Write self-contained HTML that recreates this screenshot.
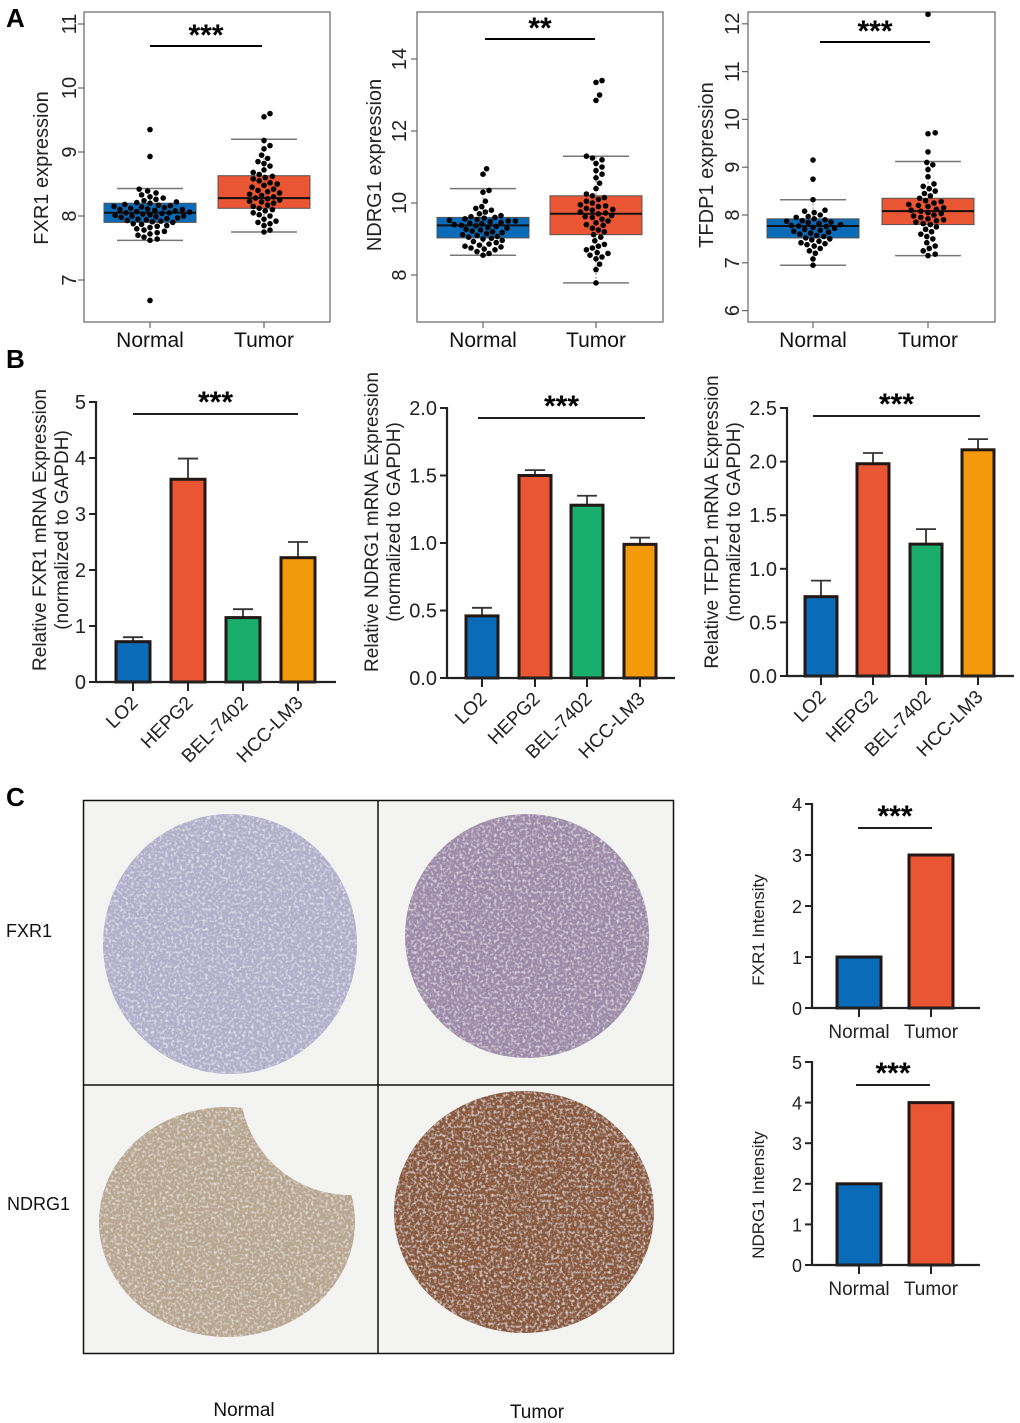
<!DOCTYPE html>
<html><head><meta charset="utf-8"><style>
html,body{margin:0;padding:0;background:#fff;}
svg{display:block;font-family:"Liberation Sans",Arial,sans-serif;}
</style></head><body>
<svg id="fig" width="1020" height="1423" viewBox="0 0 1020 1423" xmlns="http://www.w3.org/2000/svg">
<defs>
<filter id="tex" x="0" y="0" width="100%" height="100%">
<feTurbulence type="fractalNoise" baseFrequency="0.35" numOctaves="2" seed="3" result="n"/>
<feColorMatrix in="n" type="matrix" values="0 0 0 0 1  0 0 0 0 1  0 0 0 0 1  0 0 0 -1.6 0.85" result="w"/>
<feComposite in="w" in2="SourceGraphic" operator="in" result="wm"/>
<feMerge><feMergeNode in="SourceGraphic"/><feMergeNode in="wm"/></feMerge>
</filter>
<mask id="biteMask"><rect x="83" y="1085" width="296" height="270" fill="#fff"/><circle cx="350" cy="1085" r="110" fill="#000"/></mask>
<clipPath id="cellTL"><rect x="83" y="800" width="295" height="285"/></clipPath>
<clipPath id="cellTR"><rect x="378" y="800" width="295" height="285"/></clipPath>
<clipPath id="cellBR"><rect x="378" y="1085" width="295" height="268"/></clipPath>
</defs>
<g id="root"></g>
</svg>
<script>
// ---------- Panel A data ----------
const boxGroups = ["Normal", "Tumor"];
const a1Normal = [6.68,7.62,7.64,7.67,7.7,7.72,7.74,7.76,7.78,7.8,7.82,7.84,7.85,7.87,7.88,7.9,7.91,7.92,7.93,7.94,7.95,7.96,7.97,7.98,7.99,8.0,8.0,8.01,8.02,8.03,8.04,8.05,8.05,8.06,8.07,8.08,8.09,8.1,8.1,8.11,8.12,8.13,8.14,8.15,8.16,8.17,8.18,8.2,8.21,8.22,8.24,8.26,8.28,8.3,8.33,8.36,8.39,8.42,8.93,9.35];
const a1Tumor = [7.75,7.78,7.85,7.88,7.9,7.92,7.95,8.0,8.02,8.05,8.08,8.1,8.12,8.15,8.17,8.2,8.22,8.23,8.25,8.27,8.28,8.3,8.32,8.34,8.36,8.38,8.4,8.42,8.45,8.48,8.5,8.52,8.55,8.58,8.6,8.62,8.65,8.68,8.72,8.78,8.82,8.85,8.9,8.95,9.05,9.1,9.18,9.55,9.6];
const a1Stats = [[7.62,7.9,8.05,8.2,8.43],[7.75,8.12,8.28,8.63,9.2]];
const a1Ticks = [7,8,9,10,11];
const a2Normal = [8.55,8.6,8.65,8.7,8.72,8.75,8.78,8.8,8.83,8.86,8.9,8.93,8.96,9.0,9.02,9.05,9.07,9.1,9.12,9.15,9.18,9.2,9.22,9.25,9.27,9.3,9.32,9.35,9.37,9.38,9.4,9.42,9.44,9.46,9.48,9.5,9.5,9.52,9.54,9.56,9.58,9.6,9.62,9.65,9.7,9.75,9.8,9.85,9.9,10.05,10.3,10.35,10.8,10.95];
const a2Tumor = [7.78,8.15,8.3,8.45,8.5,8.55,8.6,8.62,8.7,8.75,8.8,8.85,8.95,9.05,9.12,9.2,9.25,9.3,9.38,9.4,9.45,9.5,9.55,9.6,9.62,9.65,9.7,9.72,9.75,9.8,9.82,9.85,9.9,9.92,9.95,10.0,10.05,10.1,10.15,10.2,10.25,10.4,10.55,10.7,10.8,10.9,11.0,11.1,11.2,11.25,11.3,12.85,13.0,13.35,13.4];
const a2Stats = [[8.55,9.03,9.38,9.6,10.4],[7.78,9.12,9.7,10.2,11.3]];
const a2Ticks = [8,10,12,14];
const a3Normal = [6.95,7.08,7.2,7.25,7.3,7.35,7.38,7.4,7.42,7.45,7.48,7.5,7.52,7.55,7.57,7.6,7.62,7.64,7.66,7.68,7.7,7.72,7.74,7.76,7.77,7.78,7.8,7.82,7.84,7.85,7.87,7.88,7.9,7.92,7.95,7.97,8.0,8.05,8.08,8.1,8.32,8.75,9.15];
const a3Tumor = [7.15,7.18,7.25,7.3,7.35,7.42,7.5,7.55,7.6,7.65,7.7,7.75,7.8,7.82,7.85,7.88,7.9,7.92,7.95,7.98,8.0,8.03,8.05,8.08,8.1,8.12,8.15,8.18,8.2,8.22,8.25,8.28,8.3,8.35,8.4,8.45,8.5,8.55,8.6,8.65,8.8,8.95,9.05,9.1,9.32,9.7,9.72,12.2];
const a3Stats = [[6.95,7.52,7.77,7.92,8.32],[7.15,7.8,8.08,8.35,9.12]];
const a3Ticks = [6,7,8,9,10,11,12];

// ---------- Panel B data ----------
const cellLines = ["LO2","HEPG2","BEL-7402","HCC-LM3"];
const b1Values = [0.72,3.62,1.15,2.22];
const b1Errors = [0.08,0.37,0.15,0.28];
const b1Ticks = ["0","1","2","3","4","5"];
const b2Values = [0.46,1.5,1.28,0.99];
const b2Errors = [0.06,0.04,0.07,0.05];
const b2Ticks = ["0.0","0.5","1.0","1.5","2.0"];
const b3Values = [0.74,1.98,1.23,2.11];
const b3Errors = [0.15,0.1,0.14,0.1];
const b3Ticks = ["0.0","0.5","1.0","1.5","2.0","2.5"];

// ---------- Panel C data ----------
const ihcGroups = ["Normal","Tumor"];
const c1Values = [1,3];
const c1Ticks = ["0","1","2","3","4"];
const c2Values = [2,4];
const c2Ticks = ["0","1","2","3","4","5"];

const BLUE="#0a6cb8", RED="#ea5533", GREEN="#19ae6c", ORANGE="#f39a0a";
const barColors=[BLUE,RED,GREEN,ORANGE];
const NS="http://www.w3.org/2000/svg";
const root=document.getElementById("root");
function mk(tag,attrs,parent){const e=document.createElementNS(NS,tag);for(const k in attrs)e.setAttribute(k,attrs[k]);(parent||root).appendChild(e);return e;}
function txt(s,attrs,parent){const e=mk("text",attrs,parent);e.textContent=s;return e;}
function lin(d0,d1,r0,r1){return v=>r0+(v-d0)*(r1-r0)/(d1-d0);}

// ---------- letters ----------
let t;
t=txt("A",{x:6,y:27,"font-size":26,"font-weight":"bold"});


t=txt("B",{x:6,y:368,"font-size":26,"font-weight":"bold"});


t=txt("C",{x:6,y:806,"font-size":26,"font-weight":"bold"});



// ---------- box plots ----------
function boxPlot(o){
  const g=mk("g",{});
  
  
  const y=lin(o.v0,o.v1,o.y0,o.y1);
  const fr=mk("rect",{x:o.fx0,y:12,width:o.fx1-o.fx0,height:310,fill:"none",stroke:"#666","stroke-width":1.2},g);
  
  
  o.ticks.forEach(v=>{
    const yy=y(v);
    const tk=mk("line",{x1:o.fx0-6,x2:o.fx0,y1:yy,y2:yy,stroke:"#666","stroke-width":1.2},g);
    
    
    const tl=txt(String(v),{x:o.tx,y:yy,"font-size":20,"text-anchor":"middle",transform:`rotate(-90 ${o.tx} ${yy})`,fill:"#222"},g);
    
    
  });
  const yl=txt(o.ylabel,{x:o.lx,y:o.ly,"font-size":20,"text-anchor":"middle",transform:`rotate(-90 ${o.lx} ${o.ly})`,fill:"#222"},g);
  
  
  const cols=[BLUE,RED];
  [o.normal,o.tumor].forEach((vals,i)=>{
    const cx=o.xs[i];const s=o.stats[i];
    const xt=mk("line",{x1:cx,x2:cx,y1:322,y2:328,stroke:"#666","stroke-width":1.2},g);
    
    
    const xl=txt(boxGroups[i],{x:cx,y:347,"font-size":21,"text-anchor":"middle",fill:"#111"},g);
    
    
    const wl=mk("line",{x1:cx,x2:cx,y1:y(s[0]),y2:y(s[4]),stroke:"#888","stroke-width":1,"stroke-dasharray":"2,2"},g);
    
    
    [s[0],s[4]].forEach(v=>{
      const c=mk("line",{x1:cx-33,x2:cx+33,y1:y(v),y2:y(v),stroke:"#777","stroke-width":1.5},g);
      
      
    });
    const b=mk("rect",{x:cx-46,y:y(s[3]),width:92,height:y(s[1])-y(s[3]),fill:cols[i],stroke:"#555","stroke-width":1},g);
    
    
    const m=mk("line",{x1:cx-46,x2:cx+46,y1:y(s[2]),y2:y(s[2]),stroke:"#111","stroke-width":2},g);
    
    
    const r=2.8,d=6.2;const placed=[];
    const sorted=vals.slice().sort((a,b)=>a-b);
    sorted.forEach(v=>{
      let yy=y(v);if(yy<13.5)yy=13.5;
      let best=0;
      for(let k=0;k<80;k++){
        const off=(k%2?1:-1)*Math.ceil(k/2)*1.2;
        if(placed.every(p=>(p[0]-off)**2+(p[1]-yy)**2>=d*d)){best=off;break;}
      }
      placed.push([best,yy]);
      const dot=mk("circle",{cx:cx+best,cy:yy,r:r,fill:"#000"},g);
      
      
    });
  });
  const sl=mk("line",{x1:o.sig[0],x2:o.sig[1],y1:o.sig[2],y2:o.sig[2],stroke:"#000","stroke-width":2},g);
  
  
  const st=txt(o.stars,{x:(o.sig[0]+o.sig[1])/2,y:o.sig[2]-1,"font-size":30,"font-weight":"bold","text-anchor":"middle"},g);
  
  
}
boxPlot({name:"fxr1-expression-boxplot",normal:a1Normal,tumor:a1Tumor,stats:a1Stats,ticks:a1Ticks,v0:8,v1:9,y0:216,y1:152,fx0:84,fx1:330,xs:[150,264],tx:76,lx:48,ly:168,ylabel:"FXR1 expression",sig:[150,262,46],stars:"***"});
boxPlot({name:"ndrg1-expression-boxplot",normal:a2Normal,tumor:a2Tumor,stats:a2Stats,ticks:a2Ticks,v0:8,v1:10,y0:275,y1:203,fx0:417,fx1:663,xs:[483,596],tx:406,lx:381,ly:165,ylabel:"NDRG1 expression",sig:[485,595,39],stars:"**"});
boxPlot({name:"tfdp1-expression-boxplot",normal:a3Normal,tumor:a3Tumor,stats:a3Stats,ticks:a3Ticks,v0:8,v1:9,y0:215,y1:167.2,fx0:748,fx1:995,xs:[813,928],tx:739,lx:713,ly:165,ylabel:"TFDP1 expression",sig:[820,930,42],stars:"***"});

// ---------- bar charts ----------
function barChart(o){
  const g=mk("g",{});
  
  
  const y=lin(0,o.vmax,o.y0,o.ytop);
  const n=o.ticks.length;
  o.ticks.forEach((lab,i)=>{
    const v=o.vmax*i/(n-1);const yy=y(v);
    const tk=mk("line",{x1:o.ax-7,x2:o.ax,y1:yy,y2:yy,stroke:"#222","stroke-width":2},g);
    
    
    const tl=txt(lab,{x:o.ax-10,y:yy+7,"font-size":o.fs||20,"text-anchor":"end",fill:"#222"},g);
    
    
  });
  o.values.forEach((v,i)=>{
    const cx=o.xs[i];
    if(o.errors){
      const e=o.errors[i];
      const el=mk("line",{x1:cx,x2:cx,y1:y(v),y2:y(v+e),stroke:"#333","stroke-width":1.8},g);
      
      
      const ec=mk("line",{x1:cx-10,x2:cx+10,y1:y(v+e),y2:y(v+e),stroke:"#333","stroke-width":1.8},g);
      
      
    }
    const b=mk("rect",{x:cx-o.bw/2,y:y(v),width:o.bw,height:o.y0-y(v),fill:o.colors[i],stroke:"#231815","stroke-width":3},g);
    
    
    const xt=mk("line",{x1:cx,x2:cx,y1:o.y0,y2:o.y0+9,stroke:"#222","stroke-width":2},g);
    
    
    let xl;
    if(o.rot){
      xl=txt(o.cats[i],{x:cx+6,y:o.y0+22,"font-size":19,"text-anchor":"end",transform:`rotate(-45 ${cx+6} ${o.y0+22})`,fill:"#222"},g);
    } else {
      xl=txt(o.cats[i],{x:cx,y:o.y0+30,"font-size":19,"text-anchor":"middle",fill:"#222"},g);
    }
    
    
  });
  const ya=mk("line",{x1:o.ax,x2:o.ax,y1:o.ytop-1,y2:o.y0+1,stroke:"#222","stroke-width":2.2},g);
  
  
  const xa=mk("line",{x1:o.ax,x2:o.axEnd,y1:o.y0,y2:o.y0,stroke:"#222","stroke-width":2.2},g);
  
  
  o.ylabel.forEach((s,k)=>{
    const lx=o.lx+k*22;
    const yl=txt(s,{x:lx,y:o.ly,"font-size":o.lfs||19,"text-anchor":"middle",transform:`rotate(-90 ${lx} ${o.ly})`,fill:"#222"},g);
    
    
  });
  const sl=mk("line",{x1:o.sig[0],x2:o.sig[1],y1:o.sig[2],y2:o.sig[2],stroke:"#000","stroke-width":1.8},g);
  
  
  const st=txt("***",{x:(o.sig[0]+o.sig[1])/2,y:o.sig[2]-2,"font-size":30,"font-weight":"bold","text-anchor":"middle"},g);
  
  
}
barChart({name:"fxr1-mrna-barchart",values:b1Values,errors:b1Errors,ticks:b1Ticks,vmax:5,y0:682,ytop:402,ax:96,axEnd:336,xs:[133,188,243,298],bw:34,colors:barColors,cats:cellLines,rot:true,lx:46,ly:530,ylabel:["Relative FXR1 mRNA Expression","(normalized to GAPDH)"],sig:[133,298,414]});
barChart({name:"ndrg1-mrna-barchart",values:b2Values,errors:b2Errors,ticks:b2Ticks,vmax:2,y0:678,ytop:408,ax:447,axEnd:675,xs:[482,535,587,640],bw:32,colors:barColors,cats:cellLines,rot:true,lx:378,ly:522,ylabel:["Relative NDRG1 mRNA Expression","(normalized to GAPDH)"],sig:[478,645,418]});
barChart({name:"tfdp1-mrna-barchart",values:b3Values,errors:b3Errors,ticks:b3Ticks,vmax:2.5,y0:676,ytop:408,ax:787,axEnd:1014,xs:[821,873,926,978],bw:32,colors:barColors,cats:cellLines,rot:true,lx:718,ly:522,ylabel:["Relative TFDP1 mRNA Expression","(normalized to GAPDH)"],sig:[813,980,416]});
barChart({name:"fxr1-intensity-barchart",values:c1Values,ticks:c1Ticks,vmax:4,y0:1008,ytop:804,ax:812,axEnd:980,xs:[859,931],bw:44,colors:[BLUE,RED],cats:ihcGroups,rot:false,fs:18,lfs:17,lx:764,ly:930,ylabel:["FXR1 Intensity"],sig:[858,932,828]});
barChart({name:"ndrg1-intensity-barchart",values:c2Values,ticks:c2Ticks,vmax:5,y0:1265,ytop:1062,ax:812,axEnd:980,xs:[859,931],bw:44,colors:[BLUE,RED],cats:ihcGroups,rot:false,fs:18,lfs:17,lx:764,ly:1195,ylabel:["NDRG1 Intensity"],sig:[856,930,1085]});

// ---------- IHC images ----------
const ihc=mk("g",{});


let e;
e=mk("rect",{x:83,y:800,width:590,height:553,fill:"#f3f3f1"},ihc);


e=mk("ellipse",{cx:230,cy:944,rx:127,ry:130,fill:"#b2afcb",filter:"url(#tex)","clip-path":"url(#cellTL)"},ihc);


e=mk("ellipse",{cx:527,cy:936,rx:122,ry:122,fill:"#9d8aa8",filter:"url(#tex)","clip-path":"url(#cellTR)"},ihc);


e=mk("ellipse",{cx:227,cy:1222,rx:128,ry:115,fill:"#b8a690",filter:"url(#tex)",mask:"url(#biteMask)"},ihc);


e=mk("ellipse",{cx:524,cy:1212,rx:130,ry:121,fill:"#8a583a",filter:"url(#tex)","clip-path":"url(#cellBR)"},ihc);


e=mk("rect",{x:83.5,y:800.5,width:590,height:553,fill:"none",stroke:"#111","stroke-width":1.5},ihc);


e=mk("line",{x1:378,x2:378,y1:800,y2:1353,stroke:"#111","stroke-width":1.5},ihc);


e=mk("line",{x1:83,x2:673,y1:1085,y2:1085,stroke:"#111","stroke-width":1.5},ihc);


e=txt("FXR1",{x:6,y:937,"font-size":18,fill:"#111"},ihc);


e=txt("NDRG1",{x:7,y:1210,"font-size":18,fill:"#111"},ihc);


e=txt("Normal",{x:244,y:1416,"font-size":19,"text-anchor":"middle",fill:"#111"},ihc);


e=txt("Tumor",{x:537,y:1418,"font-size":19,"text-anchor":"middle",fill:"#111"},ihc);


</script>
</body></html>
